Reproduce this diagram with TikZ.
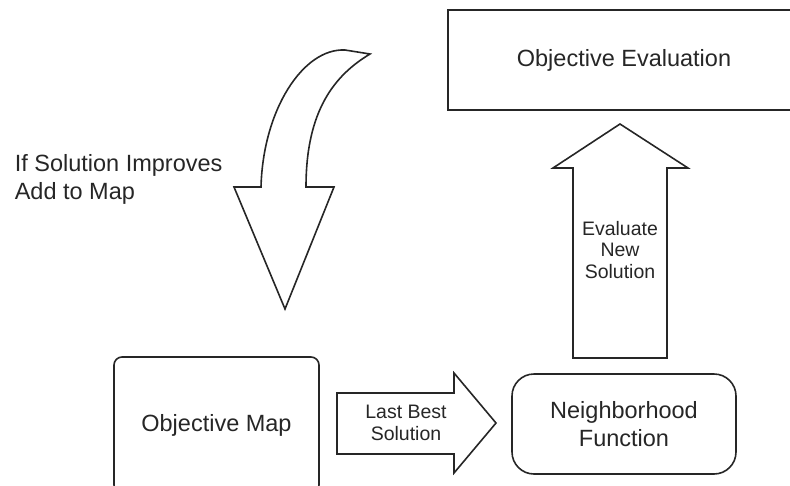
\documentclass[tikz,border=0pt]{standalone}
\usepackage{fontspec}
\setmainfont{Liberation Sans}
\begin{document}
\begin{tikzpicture}[x=1pt, y=-1pt, line width=1.6pt, line join=miter,
  outline/.style={draw=black!85, line width=1.6pt},
  bigtext/.style={text=black!85, font=\fontsize{23.5}{28}\selectfont, align=center, inner sep=0pt},
  smalltext/.style={text=black!85, font=\fontsize{19.5}{21.5}\selectfont, align=center, inner sep=0pt},
  block/.style={outline, bigtext, minimum width=#1}]
\useasboundingbox (0,0) rectangle (790,485);
\begin{scope}
  \clip (0,0) rectangle (790,485);
  % process boxes
  \node[block=352pt, minimum height=100pt] (eval) at (624,60) {Objective Evaluation};
  \node[block=205pt, minimum height=136pt, rounded corners=8pt] (objmap) at (216.5,425) {Objective Map};
  \node[block=224pt, minimum height=100pt, rounded corners=22pt] (neigh) at (624,424) {Neighborhood\\Function};

  % block arrow: last best solution
  \draw[outline] (337,393) -- (454,393) -- (454,373) -- (496,423) -- (454,473)
    -- (454,454) -- (337,454) -- cycle;
  \node[smalltext] (lastbest) at (406,423) {Last Best\\Solution};

  % block arrow: evaluate new solution
  \draw[outline] (573,358) -- (573,168) -- (553,168) -- (620,124) -- (688,168)
    -- (667,168) -- (667,358) -- cycle;
  \node[smalltext] (evalnew) at (620,250) {Evaluate\\New\\Solution};

  % curved block arrow back into the map
  \draw[outline] (261,187) .. controls (263,110) and (303,48) .. (345,50)
    -- (370,54) .. controls (335,75) and (306,110) .. (306,187)
    -- (334,187) -- (285,309) -- (234,187) -- cycle;
  \node[bigtext, align=left, anchor=west] (improve) at (14,179) {If Solution Improves\\Add to Map};
\end{scope}
\end{tikzpicture}
\end{document}
